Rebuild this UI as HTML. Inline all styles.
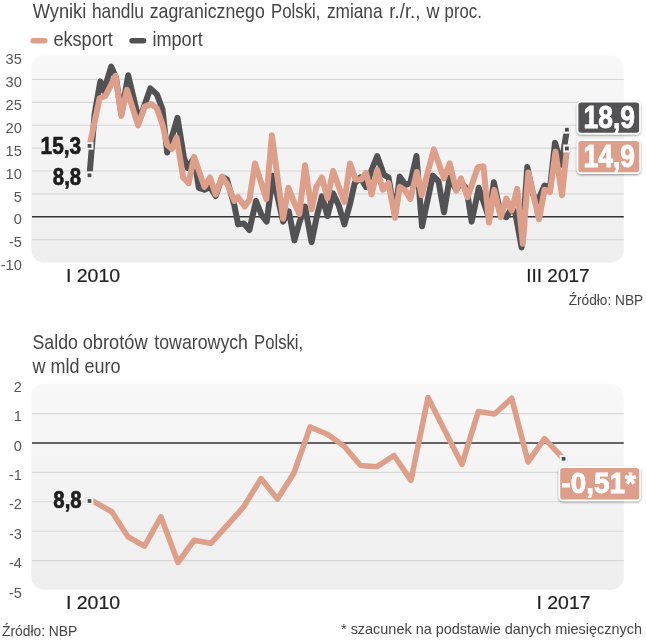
<!DOCTYPE html>
<html><head><meta charset="utf-8"><title>Wyniki handlu zagranicznego Polski</title>
<style>
html,body{margin:0;padding:0;background:#fff;}
body{width:646px;height:640px;overflow:hidden;font-family:"Liberation Sans",sans-serif;}
svg{display:block;}
svg text{font-family:"Liberation Sans",sans-serif;}
</style></head><body>
<svg width="646" height="640" viewBox="0 0 646 640">
<defs>
<linearGradient id="bg" x1="0" y1="0" x2="0" y2="1"><stop offset="0" stop-color="#f8f8f8"/><stop offset="1" stop-color="#eeeeee"/></linearGradient>
<filter id="sh" x="-10%" y="-10%" width="120%" height="130%"><feGaussianBlur in="SourceAlpha" stdDeviation="1"/><feOffset dx="0" dy="1"/><feComponentTransfer><feFuncA type="linear" slope="0.45"/></feComponentTransfer><feMerge><feMergeNode/><feMergeNode in="SourceGraphic"/></feMerge></filter>
</defs>
<rect width="646" height="640" fill="#fff"/>
<g opacity="0.999">

<rect x="31.2" y="55.6" width="592.6" height="207" rx="13" ry="13" fill="url(#bg)"/>
<line x1="32" x2="623.8" y1="79.53" y2="79.53" stroke="#d8d8d8" stroke-width="1.1"/>
<line x1="32" x2="623.8" y1="102.40" y2="102.40" stroke="#d8d8d8" stroke-width="1.1"/>
<line x1="32" x2="623.8" y1="125.27" y2="125.27" stroke="#d8d8d8" stroke-width="1.1"/>
<line x1="32" x2="623.8" y1="148.14" y2="148.14" stroke="#d8d8d8" stroke-width="1.1"/>
<line x1="32" x2="623.8" y1="171.01" y2="171.01" stroke="#d8d8d8" stroke-width="1.1"/>
<line x1="32" x2="623.8" y1="193.88" y2="193.88" stroke="#d8d8d8" stroke-width="1.1"/>
<line x1="32" x2="623.8" y1="239.62" y2="239.62" stroke="#d8d8d8" stroke-width="1.1"/>
<line x1="32" x2="623.8" y1="216.75" y2="216.75" stroke="#333" stroke-width="1.4"/>
<text x="5.6" y="64.3" font-size="15.5" text-anchor="start" font-weight="normal" fill="#555" textLength="16.3" lengthAdjust="spacingAndGlyphs" >35</text>
<text x="5.6" y="87.1" font-size="15.5" text-anchor="start" font-weight="normal" fill="#555" textLength="16.3" lengthAdjust="spacingAndGlyphs" >30</text>
<text x="5.6" y="110.0" font-size="15.5" text-anchor="start" font-weight="normal" fill="#555" textLength="16.3" lengthAdjust="spacingAndGlyphs" >25</text>
<text x="5.6" y="132.9" font-size="15.5" text-anchor="start" font-weight="normal" fill="#555" textLength="16.3" lengthAdjust="spacingAndGlyphs" >20</text>
<text x="5.6" y="155.7" font-size="15.5" text-anchor="start" font-weight="normal" fill="#555" textLength="16.3" lengthAdjust="spacingAndGlyphs" >15</text>
<text x="5.6" y="178.6" font-size="15.5" text-anchor="start" font-weight="normal" fill="#555" textLength="16.3" lengthAdjust="spacingAndGlyphs" >10</text>
<text x="13.8" y="201.5" font-size="15.5" text-anchor="start" font-weight="normal" fill="#555" textLength="8.1" lengthAdjust="spacingAndGlyphs" >5</text>
<text x="13.8" y="224.3" font-size="15.5" text-anchor="start" font-weight="normal" fill="#555" textLength="8.1" lengthAdjust="spacingAndGlyphs" >0</text>
<text x="8.9" y="247.2" font-size="15.5" text-anchor="start" font-weight="normal" fill="#555" textLength="13.0" lengthAdjust="spacingAndGlyphs" >-5</text>
<text x="0.7" y="270.1" font-size="15.5" text-anchor="start" font-weight="normal" fill="#555" textLength="21.2" lengthAdjust="spacingAndGlyphs" >-10</text>
<polyline points="89.5,175.3 94.7,113.5 100.3,81.4 103.8,90.8 111.2,66.5 116.0,78.0 121.3,114.0 128.2,75.2 139.0,121.0 150.3,88.4 156.9,94.4 162.5,109.4 167.2,152.5 177.5,117.8 183.8,157.0 187.5,168.0 194.1,158.0 198.8,187.8 204.4,189.7 210.0,187.0 215.6,196.0 222.2,177.0 226.9,179.4 234.4,205.6 238.1,224.4 243.8,223.4 249.4,230.0 256.0,201.0 261.6,215.0 266.7,221.6 272.8,175.6 283.1,221.6 288.8,211.3 294.4,240.4 299.4,222.5 305.0,206.6 311.6,242.2 316.3,218.8 321.9,196.3 327.5,216.0 333.1,193.4 338.8,205.6 344.4,224.4 350.0,204.0 354.7,183.0 360.3,177.5 366.0,187.0 371.6,170.0 377.2,156.0 383.8,174.7 388.5,177.5 395.0,215.0 399.7,176.6 405.6,185.0 410.3,183.0 416.5,156.0 422.0,226.3 432.8,175.6 438.5,181.3 444.0,212.2 449.7,177.5 456.3,190.0 461.0,182.0 466.6,188.8 471.6,221.6 478.8,187.8 489.0,218.0 493.8,182.2 500.8,215.0 506.3,217.2 511.7,208.0 515.3,213.0 521.6,247.5 527.3,167.0 533.0,194.5 537.8,201.0 544.5,185.5 550.0,188.0 555.0,142.8 561.4,164.7 566.9,129.7" fill="none" stroke="#525254" stroke-width="6" stroke-linejoin="round" stroke-linecap="round"/>
<polyline points="89.5,146.0 99.6,98.2 105.4,96.0 115.5,75.8 121.3,116.0 126.9,89.7 138.1,125.3 144.7,106.6 151.3,104.1 156.9,108.4 162.5,124.4 167.2,145.0 171.9,148.8 176.6,137.5 183.2,177.5 188.6,183.3 194.1,156.9 204.4,186.9 210.0,177.5 215.6,194.4 222.2,176.6 227.8,185.0 234.4,201.0 238.1,197.2 244.7,206.6 249.4,200.0 255.0,163.4 266.3,199.1 271.9,135.3 283.1,218.8 288.4,187.8 294.7,203.8 299.4,214.0 305.0,165.3 311.6,209.4 316.3,186.9 321.9,177.5 327.5,198.1 333.1,171.0 344.4,202.0 350.0,163.4 355.6,179.4 361.3,179.4 366.0,172.8 371.6,194.4 377.2,170.0 382.8,189.7 388.5,183.0 395.0,217.8 399.7,186.9 405.3,190.6 410.3,199.0 416.9,172.0 421.6,195.3 433.8,149.4 444.0,178.4 449.7,163.4 456.3,190.6 461.0,178.4 467.5,197.2 477.8,167.2 483.4,166.3 489.0,222.5 494.2,189.9 500.8,217.2 506.3,198.6 511.7,210.6 517.2,188.8 522.8,243.8 528.3,172.5 539.0,219.4 544.5,189.9 550.0,192.0 555.5,151.6 562.0,195.3 566.9,148.5" fill="none" stroke="#dd9e8a" stroke-width="6" stroke-linejoin="round" stroke-linecap="round"/>
<rect x="85.8" y="142.2" width="7.4" height="7.4" fill="#fbfbfb" stroke="#d8d8d8" stroke-width="0.5"/><rect x="87.6" y="144.0" width="3.8" height="3.8" fill="#4a4a4a"/>
<rect x="85.8" y="171.6" width="7.4" height="7.4" fill="#fbfbfb" stroke="#d8d8d8" stroke-width="0.5"/><rect x="87.6" y="173.4" width="3.8" height="3.8" fill="#4a4a4a"/>
<rect x="563.2" y="126.0" width="7.4" height="7.4" fill="#fbfbfb" stroke="#d8d8d8" stroke-width="0.5"/><rect x="565.0" y="127.8" width="3.8" height="3.8" fill="#4a4a4a"/>
<rect x="563.2" y="144.8" width="7.4" height="7.4" fill="#fbfbfb" stroke="#d8d8d8" stroke-width="0.5"/><rect x="565.0" y="146.6" width="3.8" height="3.8" fill="#4a4a4a"/>
<text x="32.7" y="17.9" font-size="20.2" text-anchor="start" font-weight="normal" fill="#444" textLength="53.6" lengthAdjust="spacingAndGlyphs" >Wyniki</text>
<text x="91.9" y="17.9" font-size="20.2" text-anchor="start" font-weight="normal" fill="#444" textLength="52.1" lengthAdjust="spacingAndGlyphs" >handlu</text>
<text x="149.7" y="17.9" font-size="20.2" text-anchor="start" font-weight="normal" fill="#444" textLength="115.1" lengthAdjust="spacingAndGlyphs" >zagranicznego</text>
<text x="271.1" y="17.9" font-size="20.2" text-anchor="start" font-weight="normal" fill="#444" textLength="49.4" lengthAdjust="spacingAndGlyphs" >Polski,</text>
<text x="326.9" y="17.9" font-size="20.2" text-anchor="start" font-weight="normal" fill="#444" textLength="55.7" lengthAdjust="spacingAndGlyphs" >zmiana</text>
<text x="389.3" y="17.9" font-size="20.2" text-anchor="start" font-weight="normal" fill="#444" textLength="31.2" lengthAdjust="spacingAndGlyphs" >r./r.,</text>
<text x="426.4" y="17.9" font-size="20.2" text-anchor="start" font-weight="normal" fill="#444" textLength="13.0" lengthAdjust="spacingAndGlyphs" >w</text>
<text x="444.6" y="17.9" font-size="20.2" text-anchor="start" font-weight="normal" fill="#444" textLength="37.2" lengthAdjust="spacingAndGlyphs" >proc.</text>
<line x1="33.1" x2="44.8" y1="40.8" y2="40.8" stroke="#dd9e8a" stroke-width="5.4" stroke-linecap="round"/>
<text x="53.4" y="46" font-size="19.5" text-anchor="start" font-weight="normal" fill="#444" textLength="59.4" lengthAdjust="spacingAndGlyphs" >eksport</text>
<line x1="132" x2="143.6" y1="40.8" y2="40.8" stroke="#525254" stroke-width="5.4" stroke-linecap="round"/>
<text x="152.5" y="46" font-size="19.5" text-anchor="start" font-weight="normal" fill="#444" textLength="50.2" lengthAdjust="spacingAndGlyphs" >import</text>
<text x="40.6" y="153.6" font-size="24" text-anchor="start" font-weight="bold" fill="#f3f3f3" textLength="40.6" lengthAdjust="spacingAndGlyphs" stroke="#f3f3f3" stroke-width="3.2" stroke-linejoin="round">15,3</text>
<text x="40.6" y="153.6" font-size="24" text-anchor="start" font-weight="bold" fill="#1d1d1d" textLength="40.6" lengthAdjust="spacingAndGlyphs" stroke="#1d1d1d" stroke-width="0.7">15,3</text>
<text x="52.8" y="184.8" font-size="24" text-anchor="start" font-weight="bold" fill="#f3f3f3" textLength="28.4" lengthAdjust="spacingAndGlyphs" stroke="#f3f3f3" stroke-width="3.2" stroke-linejoin="round">8,8</text>
<text x="52.8" y="184.8" font-size="24" text-anchor="start" font-weight="bold" fill="#1d1d1d" textLength="28.4" lengthAdjust="spacingAndGlyphs" stroke="#1d1d1d" stroke-width="0.7">8,8</text>
<g filter="url(#sh)"><rect x="576.7" y="100.8" width="64.1" height="33.7" rx="4.2" fill="#fff"/></g><rect x="578.4" y="102.5" width="60.7" height="30.3" rx="2.8" fill="#525254"/>
<text x="583.6" y="127.9" font-size="30.5" text-anchor="start" font-weight="bold" fill="#fff" textLength="51.3" lengthAdjust="spacingAndGlyphs" stroke="#fff" stroke-width="0.8">18,9</text>
<g filter="url(#sh)"><rect x="576.7" y="139.2" width="64.1" height="34.7" rx="4.2" fill="#fff"/></g><rect x="578.4" y="140.9" width="60.7" height="31.3" rx="2.8" fill="#dd9e8a"/>
<text x="583.6" y="166.5" font-size="30.5" text-anchor="start" font-weight="bold" fill="#fff" textLength="51.3" lengthAdjust="spacingAndGlyphs" stroke="#fff" stroke-width="0.8">14,9</text>
<text x="65.9" y="281.5" font-size="19" text-anchor="start" font-weight="normal" fill="#222" textLength="54.2" lengthAdjust="spacingAndGlyphs" stroke="#222" stroke-width="0.2">I 2010</text>
<text x="526.3" y="281.5" font-size="19" text-anchor="start" font-weight="normal" fill="#222" textLength="63.2" lengthAdjust="spacingAndGlyphs" stroke="#222" stroke-width="0.2">III 2017</text>
<text x="568.7" y="305" font-size="14" text-anchor="start" font-weight="normal" fill="#444" textLength="74.5" lengthAdjust="spacingAndGlyphs" >Źródło: NBP</text>
<text x="32.5" y="348.7" font-size="20.2" text-anchor="start" font-weight="normal" fill="#444" textLength="45.4" lengthAdjust="spacingAndGlyphs" >Saldo</text>
<text x="82.7" y="348.7" font-size="20.2" text-anchor="start" font-weight="normal" fill="#444" textLength="64.9" lengthAdjust="spacingAndGlyphs" >obrotów</text>
<text x="154.3" y="348.7" font-size="20.2" text-anchor="start" font-weight="normal" fill="#444" textLength="93.7" lengthAdjust="spacingAndGlyphs" >towarowych</text>
<text x="254.0" y="348.7" font-size="20.2" text-anchor="start" font-weight="normal" fill="#444" textLength="49.2" lengthAdjust="spacingAndGlyphs" >Polski,</text>
<text x="32.5" y="373.2" font-size="20.2" text-anchor="start" font-weight="normal" fill="#444" textLength="88" lengthAdjust="spacingAndGlyphs" >w mld euro</text>
<rect x="31.2" y="383.8" width="592.6" height="206" rx="13" ry="13" fill="url(#bg)"/>
<line x1="32" x2="623.8" y1="413.60" y2="413.60" stroke="#d8d8d8" stroke-width="1.1"/>
<line x1="32" x2="623.8" y1="472.40" y2="472.40" stroke="#d8d8d8" stroke-width="1.1"/>
<line x1="32" x2="623.8" y1="501.80" y2="501.80" stroke="#d8d8d8" stroke-width="1.1"/>
<line x1="32" x2="623.8" y1="531.20" y2="531.20" stroke="#d8d8d8" stroke-width="1.1"/>
<line x1="32" x2="623.8" y1="560.60" y2="560.60" stroke="#d8d8d8" stroke-width="1.1"/>
<line x1="32" x2="623.8" y1="443.00" y2="443.00" stroke="#333" stroke-width="1.4"/>
<text x="13.8" y="391.8" font-size="15.5" text-anchor="start" font-weight="normal" fill="#555" textLength="8.1" lengthAdjust="spacingAndGlyphs" >2</text>
<text x="13.8" y="421.2" font-size="15.5" text-anchor="start" font-weight="normal" fill="#555" textLength="8.1" lengthAdjust="spacingAndGlyphs" >1</text>
<text x="13.8" y="450.6" font-size="15.5" text-anchor="start" font-weight="normal" fill="#555" textLength="8.1" lengthAdjust="spacingAndGlyphs" >0</text>
<text x="8.9" y="480.0" font-size="15.5" text-anchor="start" font-weight="normal" fill="#555" textLength="13.0" lengthAdjust="spacingAndGlyphs" >-1</text>
<text x="8.9" y="509.4" font-size="15.5" text-anchor="start" font-weight="normal" fill="#555" textLength="13.0" lengthAdjust="spacingAndGlyphs" >-2</text>
<text x="8.9" y="538.8" font-size="15.5" text-anchor="start" font-weight="normal" fill="#555" textLength="13.0" lengthAdjust="spacingAndGlyphs" >-3</text>
<text x="8.9" y="568.2" font-size="15.5" text-anchor="start" font-weight="normal" fill="#555" textLength="13.0" lengthAdjust="spacingAndGlyphs" >-4</text>
<text x="8.9" y="597.6" font-size="15.5" text-anchor="start" font-weight="normal" fill="#555" textLength="13.0" lengthAdjust="spacingAndGlyphs" >-5</text>
<polyline points="92.0,500.6 111.8,511.8 128.0,536.7 144.5,546.1 160.9,516.8 178.0,562.5 194.1,540.2 210.8,543.3 227.0,525.5 243.4,507.2 261.0,478.6 277.4,499.0 293.8,473.2 310.2,427.0 327.8,434.5 344.2,446.2 360.6,465.5 377.0,466.7 394.0,455.5 411.0,480.3 428.0,397.6 445.0,431.0 462.0,464.4 478.3,411.6 494.5,414.0 511.7,398.3 528.1,462.0 544.5,438.6 563.3,458.5" fill="none" stroke="#dd9e8a" stroke-width="5.6" stroke-linejoin="round" stroke-linecap="round"/>
<rect x="85.8" y="497.3" width="7.4" height="7.4" fill="#fbfbfb" stroke="#d8d8d8" stroke-width="0.5"/><rect x="87.6" y="499.1" width="3.8" height="3.8" fill="#4a4a4a"/>
<rect x="559.9" y="455.1" width="7.4" height="7.4" fill="#fbfbfb" stroke="#d8d8d8" stroke-width="0.5"/><rect x="561.7" y="456.9" width="3.8" height="3.8" fill="#4a4a4a"/>
<text x="53.3" y="507.6" font-size="24" text-anchor="start" font-weight="bold" fill="#f3f3f3" textLength="28.4" lengthAdjust="spacingAndGlyphs" stroke="#f3f3f3" stroke-width="3.2" stroke-linejoin="round">8,8</text>
<text x="53.3" y="507.6" font-size="24" text-anchor="start" font-weight="bold" fill="#1d1d1d" textLength="28.4" lengthAdjust="spacingAndGlyphs" stroke="#1d1d1d" stroke-width="0.7">8,8</text>
<g filter="url(#sh)"><rect x="558.5" y="466.2" width="82.4" height="35.1" rx="4.2" fill="#fff"/></g><rect x="560.2" y="467.9" width="79.0" height="31.7" rx="2.8" fill="#dd9e8a"/>
<text x="561.5" y="493.4" font-size="29.3" text-anchor="start" font-weight="bold" fill="#fff" textLength="74.3" lengthAdjust="spacingAndGlyphs" stroke="#fff" stroke-width="0.8">-0,51*</text>
<text x="65.9" y="608.8" font-size="19" text-anchor="start" font-weight="normal" fill="#222" textLength="54.2" lengthAdjust="spacingAndGlyphs" stroke="#222" stroke-width="0.2">I 2010</text>
<text x="536.5" y="608.8" font-size="19" text-anchor="start" font-weight="normal" fill="#222" textLength="54" lengthAdjust="spacingAndGlyphs" stroke="#222" stroke-width="0.2">I 2017</text>
<text x="2" y="636" font-size="14" text-anchor="start" font-weight="normal" fill="#444" textLength="75.3" lengthAdjust="spacingAndGlyphs" >Źródło: NBP</text>
<text x="341" y="633.5" font-size="14.5" text-anchor="start" font-weight="normal" fill="#444" textLength="301" lengthAdjust="spacingAndGlyphs" >* szacunek na podstawie danych miesięcznych</text>
</g></svg></body></html>
